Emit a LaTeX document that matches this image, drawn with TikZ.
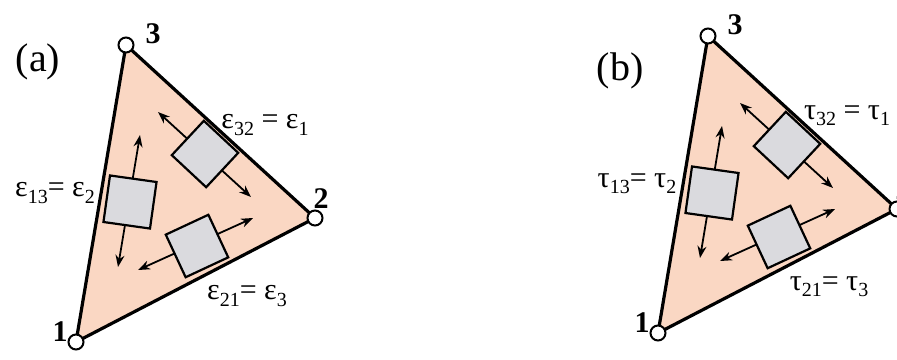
\documentclass[tikz,border=0pt]{standalone}
\usepackage{fontspec}
\setmainfont{Liberation Serif}
\usetikzlibrary{arrows.meta}
\definecolor{peach}{RGB}{250,215,195}
\definecolor{boxgray}{RGB}{218,218,222}
\newcommand{\lowidx}[1]{\raisebox{-0.45ex}{\fontsize{10}{10}\selectfont #1}}
\tikzset{
  vertex/.style={circle,draw,fill=white,line width=1pt,inner sep=0pt,minimum size=7.5pt},
  elem/.style={draw,fill=boxgray,line width=1.1pt,minimum size=23.5pt,inner sep=0pt},
  dbl/.style={{Stealth[length=6pt,width=4.5pt]}-{Stealth[length=6pt,width=4.5pt]},line width=0.9pt},
  num/.style={font=\fontsize{15}{15}\selectfont\bfseries},
  lbl/.style={font=\fontsize{15}{15}\selectfont}
}
\begin{document}
\begin{tikzpicture}[x=0.5pt,y=-0.5pt]
  \useasboundingbox (0,0) rectangle (897,359);
  \foreach \dx/\dy/\pan/\py/\sym in {0/0/a/62/ε,582/-9/b/80/τ}{
  \begin{scope}[shift={(\dx,\dy)}]
    \coordinate (p1) at (76,342);
    \coordinate (p2) at (315,218);
    \coordinate (p3) at (126,45);
    \filldraw[fill=peach,line width=1.6pt,line join=round] (p1) -- (p2) -- (p3) -- cycle;
    \node[vertex] (v1) at (p1) {};
    \node[vertex] (v2) at (p2) {};
    \node[vertex] (v3) at (p3) {};
    \node[num] (n1) at (60,332) {1};
    \node[num] (n2) at (321,199) {2};
    \node[num] (n3) at (153,34) {3};
    \node[font=\fontsize{20}{20}\selectfont] (pan) at (38,\py) {(\pan)};

    % strain/stress arrows, then the small elements on top
    \coordinate (a1) at (158,112);
    \coordinate (a2) at (251,197);
    \coordinate (b1) at (140,135);
    \coordinate (b2) at (118,267);
    \coordinate (c1) at (138,270);
    \coordinate (c2) at (253,218);
    \draw[dbl] (a1) -- (a2);
    \draw[dbl] (b1) -- (b2);
    \draw[dbl] (c1) -- (c2);
    \node[elem,rotate=-43] (ea) at (205,154) {};
    \node[elem,rotate=-8] (eb) at (130,202) {};
    \node[elem,rotate=25] (ec) at (197,246) {};

    \node[lbl] (l32) at (265,125) {\sym\lowidx{32} = \sym\lowidx{1}};
    \node[lbl] (l13) at (55,193) {\sym\lowidx{13}= \sym\lowidx{2}};
    \node[lbl] (l21) at (247,296) {\sym\lowidx{21}= \sym\lowidx{3}};
  \end{scope}
  }
\end{tikzpicture}
\end{document}
